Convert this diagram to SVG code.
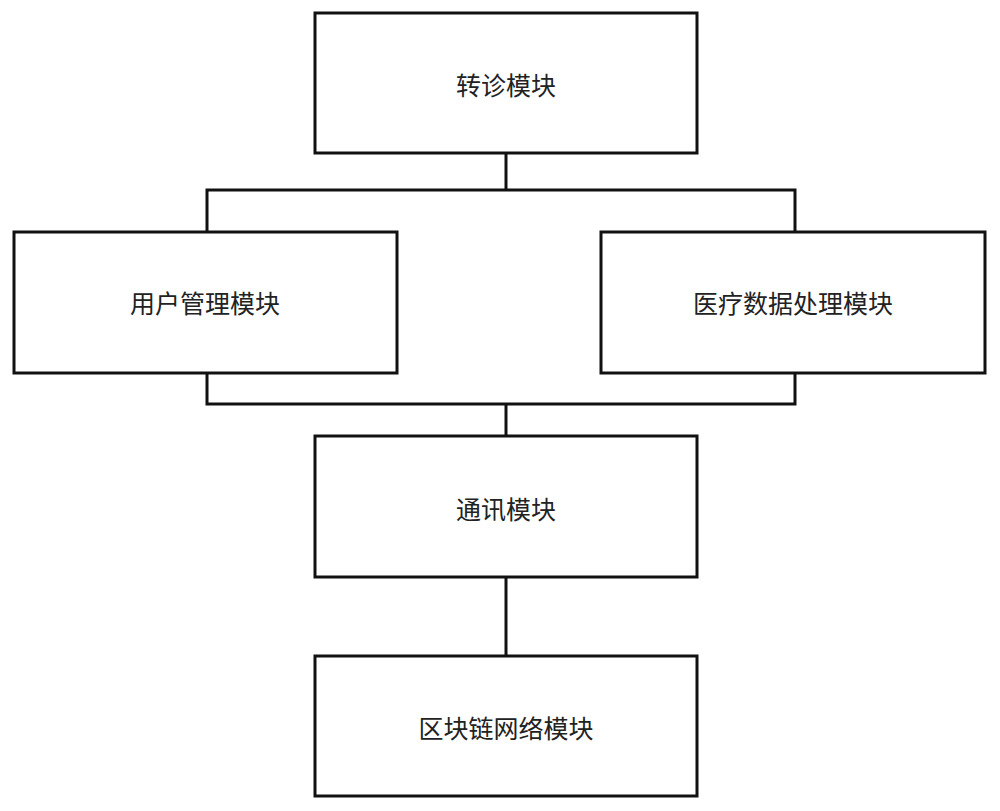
<svg xmlns="http://www.w3.org/2000/svg" width="1000" height="811" viewBox="0 0 1000 811">
<style>
.b{fill:#fff;stroke:#111;stroke-width:3}
.t{font-family:"Noto Sans CJK SC","Noto Sans",sans-serif;font-size:25px;fill:#222;text-anchor:middle;dominant-baseline:central}
.c{fill:none;stroke:#111;stroke-width:3}
</style>
<rect width="1000" height="811" fill="#fff"/>
<g id="connectors">
<polyline class="c" points="506,153 506,190"/>
<polyline class="c" points="207,232 207,190 795,190 795,232"/>
<polyline class="c" points="207,373 207,404 795,404 795,373"/>
<polyline class="c" points="506,404 506,436"/>
<polyline class="c" points="506,577 506,656"/>
</g>
<g id="n1"><rect class="b" x="315" y="13" width="382" height="140"/><text class="t" x="506" y="84">转诊模块</text></g>
<g id="n2"><rect class="b" x="14" y="232" width="383" height="141"/><text class="t" x="205" y="302">用户管理模块</text></g>
<g id="n3"><rect class="b" x="601" y="232" width="384" height="141"/><text class="t" x="793" y="302">医疗数据处理模块</text></g>
<g id="n4"><rect class="b" x="315" y="436" width="382" height="141"/><text class="t" x="506" y="508">通讯模块</text></g>
<g id="n5"><rect class="b" x="315" y="656" width="382" height="140"/><text class="t" x="506" y="727">区块链网络模块</text></g>
</svg>
